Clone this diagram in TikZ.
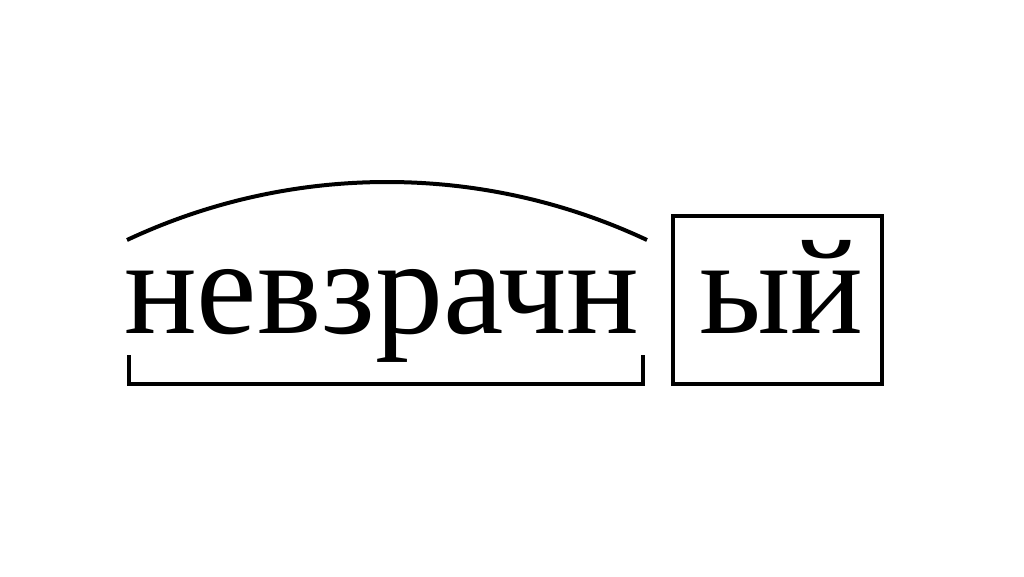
\documentclass[tikz,border=0pt]{standalone}
\usepackage{fontspec}
\setmainfont{Liberation Serif}
\begin{document}
\begin{tikzpicture}[x=1pt,y=1pt,line width=4pt]
\tikzset{morph/.style={inner sep=0pt,anchor=base west,font=\fontsize{136}{136}\selectfont}}
\useasboundingbox (0,0) rectangle (1024,576);
\node [morph] (stem) at (122,243) {невзрачн};
\node [morph] (ending) at (697,243) {ый};
% root
\draw (127,336) arc (115.15:64.85:611.8pt);
% stem
\draw (129,221) -- (129,192) -- (643,192) -- (643,221);
% ending
\draw (673,360) rectangle (882,192);
\end{tikzpicture}
\end{document}
